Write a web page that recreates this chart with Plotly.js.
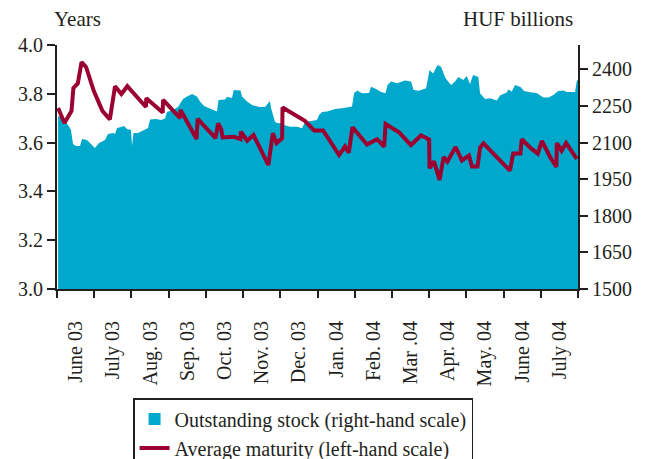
<!DOCTYPE html>
<html>
<head>
<meta charset="utf-8">
<script src="https://cdn.plot.ly/plotly-3.0.1.min.js"></script>
<style>html,body{margin:0;padding:0;background:#fff;}#chart{width:647px;height:459px;}</style>
</head>
<body>
<div id="chart"></div>
<script>
// Month labels (each label sits in the middle of its month interval)
const monthLabels = ["June 03","July 03","Aug. 03","Sep. 03","Oct. 03","Nov. 03","Dec. 03","Jan. 04","Feb. 04","Mar .04","Apr. 04","May. 04","June 04","July 04"];

// Outstanding stock (HUF billions, right-hand scale); x = months since 1 June 2003
const stockMonth = [0.03,0.161,0.296,0.376,0.430,0.511,0.618,0.672,0.806,0.914,1.021,1.129,1.290,1.371,1.505,1.559,1.613,1.720,1.801,1.881,1.989,2.016,2.056,2.177,2.365,2.446,2.499,2.661,2.795,2.903,2.956,3.118,3.252,3.386,3.494,3.628,3.762,3.843,3.951,4.085,4.219,4.300,4.340,4.515,4.569,4.703,4.749,4.931,4.972,5.106,5.241,5.429,5.590,5.684,5.724,5.751,5.805,5.859,5.939,6.020,6.100,6.262,6.450,6.584,6.665,6.853,6.987,7.041,7.122,7.256,7.471,7.659,7.794,7.928,7.982,8.063,8.197,8.385,8.439,8.573,8.708,8.828,8.882,8.976,9.137,9.245,9.352,9.514,9.581,9.729,9.917,10.011,10.105,10.226,10.320,10.441,10.589,10.696,10.785,10.919,11.011,11.099,11.180,11.322,11.368,11.502,11.637,11.817,11.905,12.085,12.129,12.220,12.309,12.456,12.550,12.712,12.892,13.069,13.209,13.338,13.464,13.607,13.706,13.921,13.967,14.0];
const stockValue = [2209,2197,2172,2152,2094,2086,2086,2115,2111,2094,2078,2098,2111,2135,2139,2135,2160,2164,2168,2156,2152,2086,2139,2139,2152,2160,2195,2197,2193,2199,2225,2234,2246,2279,2289,2299,2289,2268,2250,2242,2234,2227,2275,2277,2288,2283,2316,2314,2289,2268,2254,2246,2246,2266,2271,2242,2213,2184,2179,2180,2172,2165,2165,2159,2184,2189,2193,2213,2225,2227,2238,2241,2246,2248,2302,2314,2302,2303,2329,2320,2307,2302,2336,2350,2343,2350,2355,2350,2316,2313,2323,2398,2383,2418,2411,2364,2336,2350,2369,2357,2373,2340,2377,2369,2302,2279,2282,2273,2293,2305,2318,2309,2336,2328,2311,2306,2303,2285,2285,2295,2311,2314,2307,2307,2352,2359];

// Average maturity (years, left-hand scale)
const maturityMonth = [0.03,0.20,0.39,0.44,0.56,0.66,0.78,0.99,1.22,1.42,1.56,1.73,1.89,2.39,2.40,2.84,2.85,3.31,3.32,3.75,3.78,4.26,4.33,4.41,4.45,4.75,4.93,4.94,5.11,5.28,5.68,5.80,5.90,6.05,6.06,6.66,6.91,7.15,7.58,7.74,7.84,7.94,8.33,8.60,8.79,8.83,9.20,9.51,9.78,10.00,10.01,10.13,10.28,10.39,10.49,10.71,10.88,11.07,11.15,11.30,11.37,11.46,12.17,12.26,12.45,12.49,12.73,12.92,13.03,13.11,13.25,13.42,13.43,13.56,13.68,13.97];
const maturityYears = [3.742,3.680,3.730,3.823,3.843,3.930,3.910,3.811,3.730,3.695,3.831,3.799,3.831,3.746,3.782,3.723,3.775,3.700,3.734,3.615,3.697,3.618,3.679,3.656,3.621,3.624,3.614,3.645,3.608,3.631,3.508,3.638,3.598,3.618,3.744,3.689,3.650,3.650,3.549,3.584,3.559,3.663,3.592,3.614,3.584,3.676,3.641,3.590,3.629,3.613,3.495,3.523,3.447,3.541,3.522,3.582,3.527,3.547,3.502,3.502,3.580,3.597,3.485,3.555,3.555,3.614,3.577,3.555,3.607,3.583,3.541,3.500,3.598,3.566,3.598,3.533];

const rightTicks = [1500,1650,1800,1950,2100,2250,2400];
const leftTicks = [3.0,3.2,3.4,3.6,3.8,4.0];

const FONT = "Liberation Serif, Times New Roman, serif";
const INK = "#231f20";
const BLUE = "#00a8cb";
const RED = "#9b0031";

const traces = [
  {
    x: stockMonth, y: stockValue, type: "scatter", mode: "lines",
    name: "Outstanding stock (right-hand scale)", showlegend: false,
    fill: "tozeroy", fillcolor: BLUE, line: {width: 0, color: BLUE},
    xaxis: "x", yaxis: "y", hoverinfo: "skip"
  },
  {
    // legend entry only (square swatch like the reference)
    x: [null], y: [null], type: "bar",
    name: "Outstanding stock (right-hand scale)",
    marker: {color: BLUE, line: {width: 0}},
    xaxis: "x", yaxis: "y", hoverinfo: "skip"
  },
  {
    x: maturityMonth, y: maturityYears, type: "scatter", mode: "lines",
    name: "Average maturity (left-hand scale)",
    line: {width: 4, color: RED},
    xaxis: "x", yaxis: "y2", hoverinfo: "skip"
  }
];

const layout = {
  width: 647, height: 459,
  margin: {l: 57, r: 69, t: 45, b: 170},
  paper_bgcolor: "#fff", plot_bgcolor: "#fff",
  font: {family: FONT, size: 20, color: INK},
  showlegend: true,
  legend: {
    xref: "paper", yref: "container",
    x: 0.146, y: 1 - 398 / 459, xanchor: "left", yanchor: "top",
    bordercolor: INK, borderwidth: 1.5, bgcolor: "#fff",
    font: {family: FONT, size: 20, color: INK},
    tracegroupgap: 0, itemwidth: 30
  },
  xaxis: {
    range: [0, 14], showgrid: false, zeroline: false,
    showline: true, linecolor: INK, linewidth: 2,
    tickmode: "array",
    tickvals: monthLabels.map((_, i) => i + 0.5),
    ticktext: monthLabels,
    ticks: "outside", ticklen: 22, tickcolor: "rgba(0,0,0,0)",
    tickangle: -90,
    tickfont: {family: FONT, size: 20, color: INK},
    minor: {tickmode: "linear", tick0: 0, dtick: 1, ticks: "outside", ticklen: 7, tickwidth: 2, tickcolor: INK, showgrid: false}
  },
  yaxis: {
    range: [1500, 2500], side: "right",
    showgrid: false, zeroline: false,
    showline: true, linecolor: INK, linewidth: 2,
    tickmode: "array", tickvals: rightTicks,
    ticks: "outside", ticklen: 8, tickwidth: 2, tickcolor: INK,
    tickfont: {family: FONT, size: 20, color: INK}
  },
  yaxis2: {
    range: [3.0, 4.0], overlaying: "y", side: "left",
    showgrid: false, zeroline: false,
    showline: true, linecolor: INK, linewidth: 2,
    tickmode: "array", tickvals: leftTicks, tickformat: ".1f",
    ticks: "outside", ticklen: 8, tickwidth: 2, tickcolor: INK,
    tickfont: {family: FONT, size: 20, color: INK}
  },
  annotations: [
    {text: "Years", xref: "paper", yref: "paper", x: -0.01, y: 1.107, xanchor: "left", yanchor: "middle", showarrow: false, font: {family: FONT, size: 21, color: INK}},
    {text: "HUF billions", xref: "paper", yref: "paper", x: 0.994, y: 1.107, xanchor: "right", yanchor: "middle", showarrow: false, font: {family: FONT, size: 21, color: INK}}
  ]
};

Plotly.newPlot("chart", traces, layout, {staticPlot: true, displayModeBar: false});
</script>
</body>
</html>
